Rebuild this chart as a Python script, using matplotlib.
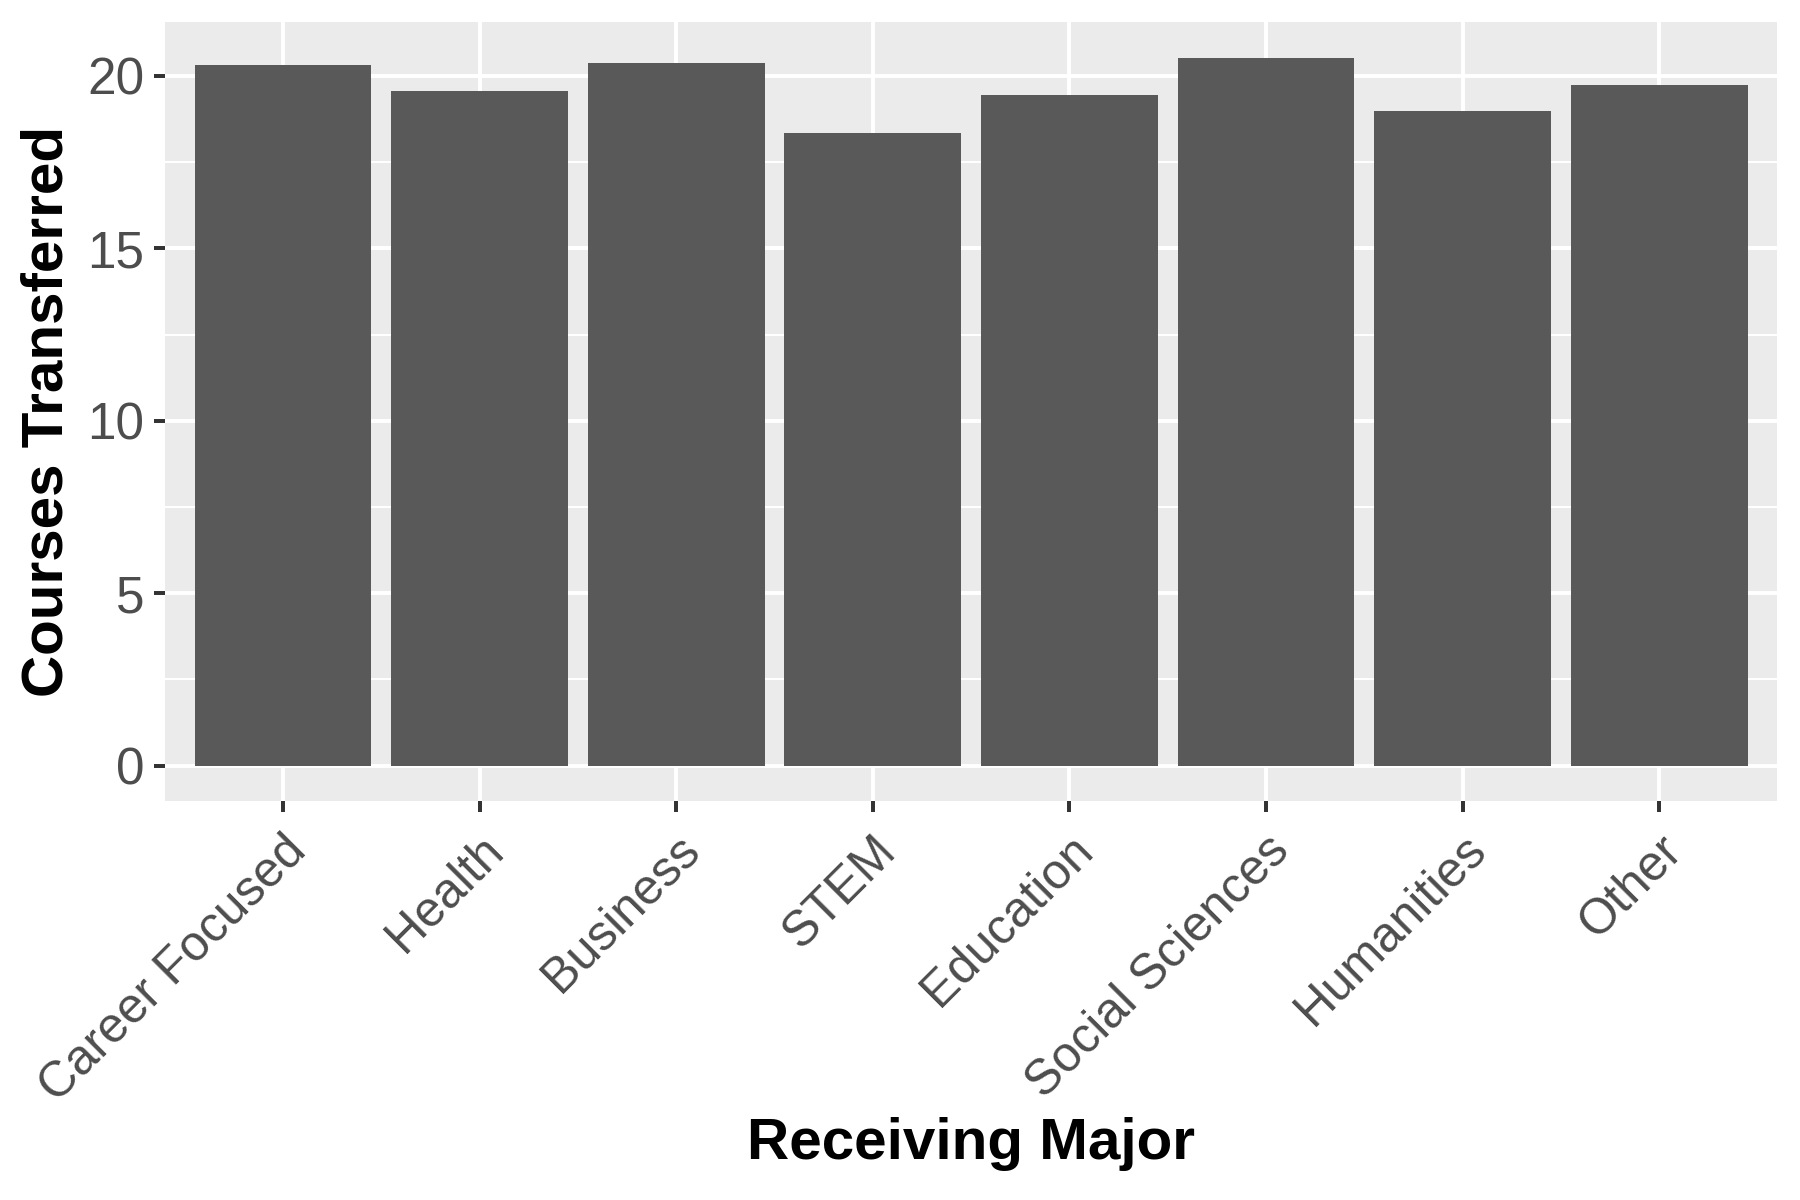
import numpy as np
import matplotlib
matplotlib.use("Agg")
import matplotlib.pyplot as plt
from matplotlib.ticker import MultipleLocator

# data
majors = ["Career Focused", "Health", "Business", "STEM", "Education",
          "Social Sciences", "Humanities", "Other"]
courses = [20.32, 19.57, 20.38, 18.33, 19.46, 20.53, 18.97, 19.73]

plt.rcParams['font.family'] = ['Liberation Sans', 'DejaVu Sans']

fig = plt.figure(figsize=(6, 4), dpi=300)
ax = fig.add_axes([0.0917, 0.3325, 0.8956, 0.649])

x = np.arange(1, len(majors) + 1)
ax.bar(x, courses, width=0.9, color='#595959', zorder=3)

# ggplot-ish look
ax.set_facecolor('#EBEBEB')
for s in ax.spines.values():
    s.set_visible(False)
top = max(courses)
ax.set_ylim(-0.05 * top, 1.05 * top)
ax.set_xlim(0.4, len(majors) + 0.6)
ax.yaxis.set_major_locator(MultipleLocator(5))
ax.yaxis.set_minor_locator(MultipleLocator(2.5))
ax.set_xticks(x)
ax.set_xticklabels(majors, rotation=45, ha='right', va='top',
                   rotation_mode='anchor', fontsize=11.9)
ax.grid(which='major', color='white', linewidth=0.95, zorder=1)
ax.grid(which='minor', axis='y', color='white', linewidth=0.48, zorder=1)
ax.tick_params(which='major', length=2.75, width=0.95, color='#333333',
               labelcolor='#4D4D4D', pad=2.2)
ax.tick_params(axis='y', labelsize=12.3)
ax.tick_params(which='minor', length=0)
ax.tick_params(axis='x', pad=3.5)

ax.set_xlabel('Receiving Major', fontsize=14, fontweight='bold', labelpad=1.5)
ax.set_ylabel('Courses Transferred', fontsize=14, fontweight='bold', labelpad=3)

fig.savefig('out.png', dpi=300)
